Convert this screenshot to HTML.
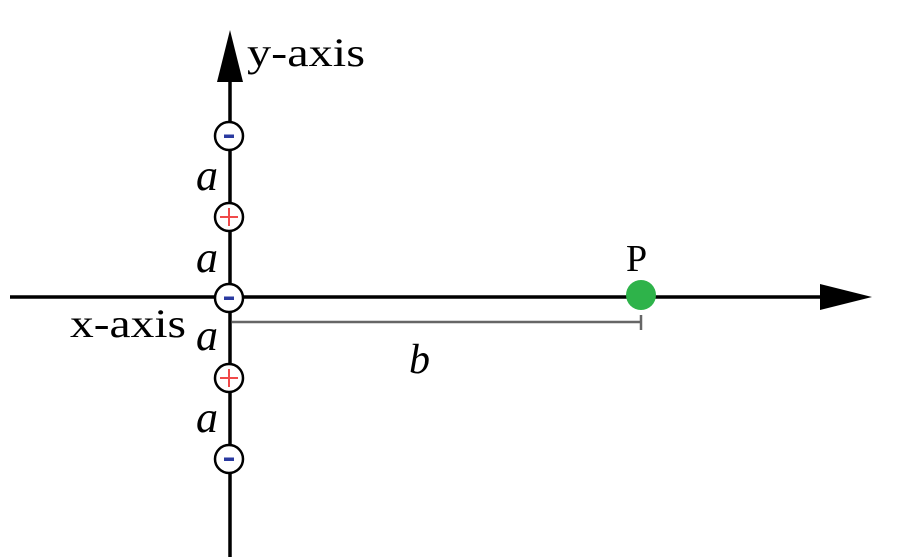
<!DOCTYPE html>
<html><head><meta charset="utf-8"><style>
html,body{margin:0;padding:0;background:#fff;}
svg{display:block;}
text{font-family:"Liberation Serif",serif;}
</style></head><body>
<svg width="914" height="557" viewBox="0 0 914 557">
<rect width="914" height="557" fill="#fff"/>
<g id="axes">
<line x1="10" y1="297" x2="830" y2="297" stroke="#000" stroke-width="3.5"/>
<polygon points="820,284 872,297 820,310" fill="#000"/>
<line x1="230" y1="60" x2="230" y2="557" stroke="#000" stroke-width="3.5"/>
<polygon points="217,82 230,30 243,82" fill="#000"/>
<text x="247" y="66" font-size="40" textLength="118" lengthAdjust="spacingAndGlyphs">y-axis</text>
<text x="70" y="337" font-size="40" textLength="116" lengthAdjust="spacingAndGlyphs">x-axis</text>
</g>
<g id="measure">
<line x1="232" y1="322" x2="641" y2="322" stroke="#666" stroke-width="2.5"/>
<line x1="641" y1="315" x2="641" y2="330" stroke="#666" stroke-width="2.5"/>
<text x="409" y="373" font-size="42" font-style="italic">b</text>
</g>
<g id="charges"></g>
<g id="point-p">
<circle cx="641" cy="295" r="15" fill="#2eb34a"/>
<text x="626" y="271" font-size="38">P</text>
</g>
</svg>
<script>
const chargeSigns = ["-", "+", "-", "+", "-"];
const chargeYs = [136, 217, 298, 378, 459];
const spacingLabelYs = [190, 272, 350, 432];
const ns = "http://www.w3.org/2000/svg";
const g = document.getElementById("charges");
chargeSigns.forEach((s, i) => {
  const c = document.createElementNS(ns, "circle");
  c.setAttribute("cx", 229); c.setAttribute("cy", chargeYs[i]); c.setAttribute("r", 14);
  c.setAttribute("fill", "#fff"); c.setAttribute("stroke", "#000"); c.setAttribute("stroke-width", 2.5);
  
  
  g.appendChild(c);
  if (s === "-") {
    const r = document.createElementNS(ns, "rect");
    r.setAttribute("x", 224); r.setAttribute("y", chargeYs[i] - 1.5); r.setAttribute("width", 10); r.setAttribute("height", 3.5);
    r.setAttribute("fill", "#2a3aa0");
    
    
    g.appendChild(r);
  } else {
    const p = document.createElementNS(ns, "path");
    p.setAttribute("d", `M220 ${chargeYs[i]} H238 M229 ${chargeYs[i]-9} V${chargeYs[i]+9}`);
    p.setAttribute("stroke", "#f04a4a"); p.setAttribute("stroke-width", 2);
    
    
    g.appendChild(p);
  }
});
spacingLabelYs.forEach(y => {
  const t = document.createElementNS(ns, "text");
  t.setAttribute("x", 196); t.setAttribute("y", y);
  t.setAttribute("font-size", 44); t.setAttribute("font-style", "italic");
  t.textContent = "a";
  
  
  g.appendChild(t);
});
</script>
</body></html>
